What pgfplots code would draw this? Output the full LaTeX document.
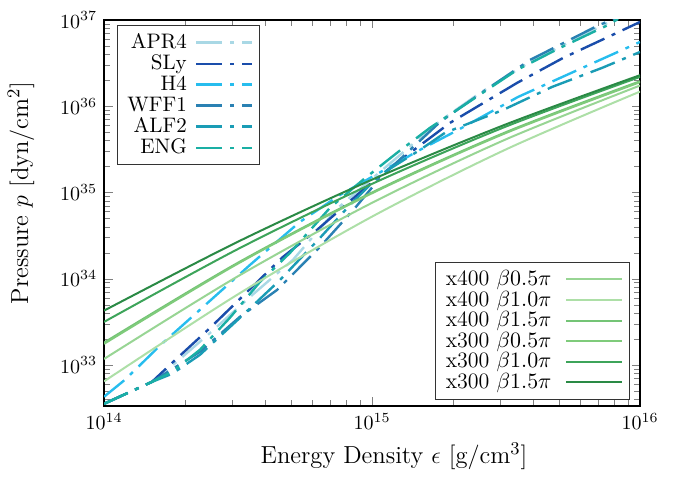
\documentclass[border=0pt]{standalone}
\usepackage{pgfplots}
\pgfplotsset{compat=1.18}
\definecolor{cAPR}{HTML}{A9D8E5}
\definecolor{cSLy}{HTML}{1A4DAB}
\definecolor{cHf}{HTML}{27BDEE}
\definecolor{cWFF}{HTML}{2A81B3}
\definecolor{cALF}{HTML}{1A9CB5}
\definecolor{cENG}{HTML}{1AAFA4}
\definecolor{gA}{HTML}{98D594}
\definecolor{gB}{HTML}{ADDFA7}
\definecolor{gC}{HTML}{74C476}
\definecolor{gD}{HTML}{7FCB7B}
\definecolor{gE}{HTML}{3DA45A}
\definecolor{gF}{HTML}{2A8A45}
\tikzset{
  eos/.style={line width=1.2pt, dash pattern=on 13pt off 4pt on 2pt off 4pt},
  gr/.style={line width=1pt},
}
\begin{document}
\begin{tikzpicture}
\begin{axis}[
  scale only axis, width=268pt, height=193pt,
  xmode=log, ymode=log,
  xmin=1e14, xmax=1e16, ymin=3.35e32, ymax=1e37,
  legend image code/.code={\draw[#1] (0pt,0pt) -- (28pt,0pt);},
  axis line style={line width=0.7pt},
  xlabel={Energy Density $\epsilon$ [g/cm$^3$]},
  ylabel={Pressure $p$ [dyn/cm$^2$]},
  label style={font=\fontsize{12.3}{14}\selectfont},
  x label style={at={(axis description cs:0.541,-0.13)}, anchor=center},
  y label style={at={(axis description cs:-0.155,0.552)}, anchor=center},
  legend style={at={(axis description cs:0.024,0.987)}, anchor=north west,
    draw=black!80, legend cell align=right, font=\fontsize{10.5}{12}\selectfont,
    column sep=2pt, row sep=-2.3pt},
  legend plot pos=right,
]
\coordinate (bl) at (rel axis cs:0,0);
\coordinate (tr) at (rel axis cs:1,1);
\addplot[eos, color=cAPR] coordinates {(1e14,3.548e32)(1.51e14,6.383e32)(1.795e14,9.795e32)(2.489e14,2.36e33)(3.507e14,6.166e33)(5.069e14,1.656e34)(7.464e14,6.637e34)(1.0715e15,1.734e35)(1.795e15,6.761e35)(2.529e15,1.426e36)(3.889e15,3.258e36)(6.918e15,8.072e36)(8.414e15,1.084e37)};
\addlegendentry{APR4}
\addplot[eos, color=cSLy] coordinates {(1e14,3.548e32)(1.51e14,6.383e32)(1.795e14,1.059e33)(2.489e14,2.698e33)(3.42e14,7.047e33)(4.656e14,1.795e34)(6.237e14,3.690e34)(9.245e14,1.0715e35)(1.167e15,1.928e35)(1.954e15,6.412e35)(3.475e15,1.862e36)(5.164e15,3.631e36)(7.603e15,6.353e36)(1e16,9.484e36)};
\addlegendentry{SLy}
\addplot[eos, color=cHf] coordinates {(1e14,4.285e32)(1.197e14,6.745e32)(1.644e14,1.762e33)(2.279e14,4.365e33)(3.507e14,1.449e34)(5.38e14,4.560e34)(7.602e14,9.376e34)(1e15,1.517e35)(1.51e15,3.119e35)(2.094e15,5.309e35)(3.507e15,1.282e36)(7.095e15,3.443e36)(1e16,5.559e36)};
\addlegendentry{H4}
\addplot[eos, color=cWFF] coordinates {(1e14,3.548e32)(1.51e14,6.383e32)(2.279e14,1.422e33)(3.214e14,3.622e33)(4.425e14,7.430e33)(6.397e14,2.344e34)(8.649e14,6.637e34)(1.0715e15,1.476e35)(1.795e15,6.577e35)(2.529e15,1.390e36)(3.889e15,3.443e36)(6.681e15,8.072e36)(8.072e15,1.054e37)};
\addlegendentry{WFF1}
\addplot[eos, color=cALF] coordinates {(1e14,3.548e32)(1.51e14,6.383e32)(1.795e14,7.907e32)(2.279e14,1.312e33)(3.214e14,3.524e33)(4.539e14,9.705e33)(6.397e14,2.979e34)(8.277e14,7.178e34)(1.0715e15,1.600e35)(1.51e15,3.119e35)(1.870e15,4.909e35)(3.082e15,9.057e35)(4.699e15,1.675e36)(7.211e15,2.780e36)(1e16,4.256e36)};
\addlegendentry{ALF2}
\addplot[eos, color=cENG] coordinates {(1e14,3.548e32)(1.51e14,6.383e32)(1.795e14,8.337e32)(2.279e14,1.5e33)(2.947e14,3.524e33)(3.82e14,9.204e33)(4.942e14,1.995e34)(6.966e14,6.637e34)(9.245e14,1.400e35)(1.238e15,2.877e35)(1.644e15,5.61e35)(2.36e15,1.183e36)(3.475e15,2.636e36)(5.023e15,4.742e36)(7.603e15,8.750e36)(8.279e15,1.028e37)};
\addlegendentry{ENG}
\end{axis}
\begin{axis}[
  scale only axis, width=268pt, height=193pt,
  xmode=log, ymode=log,
  xmin=1e14, xmax=1e16, ymin=3.35e32, ymax=1e37,
  hide axis,
  legend image code/.code={\draw[#1] (0pt,0pt) -- (28pt,0pt);},
  legend style={at={(axis description cs:0.981,0.0155)}, anchor=south east,
    draw=black!80, legend cell align=left, font=\fontsize{11}{12.5}\selectfont,
    column sep=5pt, row sep=-2.8pt},
  legend plot pos=right,
]
\addplot[gr, color=gA, smooth] coordinates {(1e14,1.175e33)(3.162e14,1.07e34)(1e15,7.59e34)(3.162e15,4.136e35)(1e16,1.738e36)};
\addlegendentry{x400 $\beta0.5\pi$}
\addplot[gr, color=gB, smooth] coordinates {(1e14,6.46e32)(3.162e14,6.61e33)(1e15,5.25e34)(3.162e15,3.16e35)(1e16,1.479e36)};
\addlegendentry{x400 $\beta1.0\pi$}
\addplot[gr, color=gC, smooth] coordinates {(1e14,1.82e33)(3.162e14,1.535e34)(1e15,1.0e35)(3.162e15,5.01e35)(1e16,1.95e36)};
\addlegendentry{x400 $\beta1.5\pi$}
\addplot[gr, color=gD, smooth] coordinates {(1e14,1.76e33)(3.162e14,1.50e34)(1e15,9.8e34)(3.162e15,4.9e35)(1e16,1.9e36)};
\addlegendentry{x300 $\beta0.5\pi$}
\addplot[gr, color=gE, smooth] coordinates {(1e14,3.16e33)(3.162e14,2.213e34)(1e15,1.259e35)(3.162e15,5.82e35)(1e16,2.188e36)};
\addlegendentry{x300 $\beta1.0\pi$}
\addplot[gr, color=gF, smooth] coordinates {(1e14,4.27e33)(3.162e14,2.69e34)(1e15,1.41e35)(3.162e15,6.17e35)(1e16,2.29e36)};
\addlegendentry{x300 $\beta1.5\pi$}
\end{axis}
\path ([xshift=-52pt,yshift=-32pt]bl) rectangle ([xshift=16.5pt,yshift=10pt]tr);
\end{tikzpicture}
\end{document}
